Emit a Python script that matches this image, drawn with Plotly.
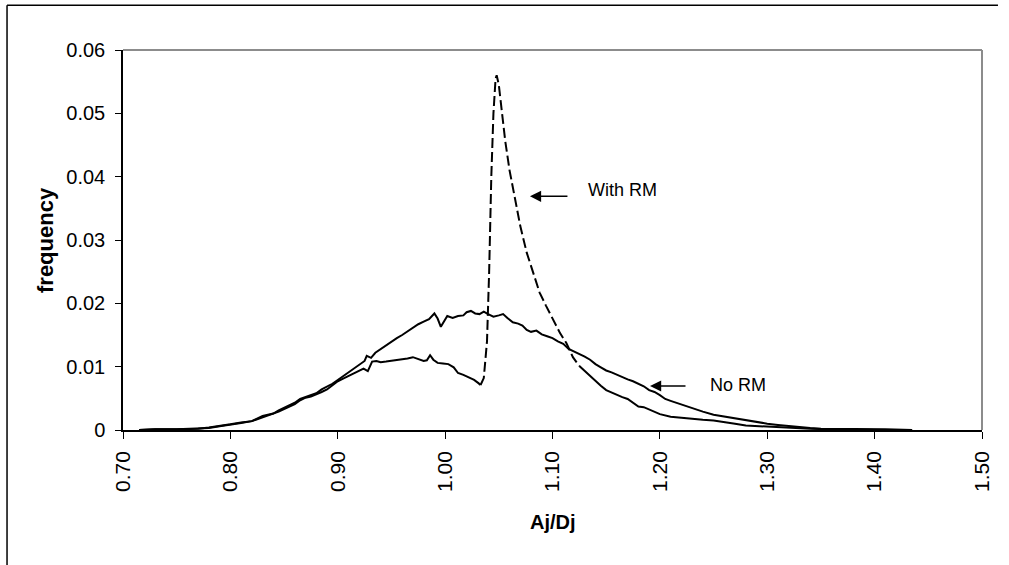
import plotly.graph_objects as go

# Aj/Dj ratio distribution, without and with RM
no_rm_x = [0.715, 0.73, 0.75, 0.77, 0.78, 0.79, 0.80, 0.81, 0.82, 0.83, 0.835, 0.84, 0.845,
           0.85, 0.855, 0.86, 0.865, 0.87, 0.875, 0.88, 0.885, 0.89, 0.895, 0.90, 0.905,
           0.91, 0.915, 0.92, 0.925, 0.927, 0.931, 0.935, 0.94, 0.945, 0.95, 0.955, 0.96,
           0.965, 0.97, 0.975, 0.98, 0.985, 0.99, 0.993, 0.996, 0.999, 1.002, 1.007, 1.012,
           1.017, 1.02, 1.024, 1.028, 1.032, 1.036, 1.04, 1.045, 1.05, 1.054, 1.058, 1.063,
           1.068, 1.072, 1.076, 1.08, 1.085, 1.09, 1.095, 1.10, 1.105, 1.11, 1.115, 1.12,
           1.125, 1.13, 1.135, 1.14, 1.145, 1.15, 1.155, 1.16, 1.165, 1.17, 1.175, 1.18,
           1.185, 1.19, 1.195, 1.20, 1.205, 1.21, 1.22, 1.23, 1.24, 1.25, 1.26, 1.27, 1.28,
           1.29, 1.30, 1.31, 1.32, 1.33, 1.34, 1.35, 1.37, 1.39, 1.41, 1.435]
no_rm_y = [0.0000, 0.0001, 0.0001, 0.0002, 0.0004, 0.0006, 0.0009, 0.0012, 0.0014, 0.0022,
           0.0024, 0.0026, 0.0031, 0.0035, 0.0038, 0.0043, 0.0049, 0.0052, 0.0055, 0.0058,
           0.0064, 0.0068, 0.0073, 0.0079, 0.0085, 0.0090, 0.0097, 0.0103, 0.0109, 0.0117,
           0.0114, 0.0122, 0.0128, 0.0133, 0.0139, 0.0145, 0.0150, 0.0156, 0.0162, 0.0167,
           0.0171, 0.0175, 0.0184, 0.0176, 0.0163, 0.0172, 0.0180, 0.0177, 0.0180, 0.0181,
           0.0186, 0.0188, 0.0184, 0.0183, 0.0187, 0.0183, 0.0179, 0.0181, 0.0183, 0.0177,
           0.0170, 0.0168, 0.0165, 0.0158, 0.0155, 0.0157, 0.0151, 0.0148, 0.0145, 0.0140,
           0.0136, 0.0128, 0.0124, 0.0121, 0.0116, 0.0111, 0.0104, 0.0099, 0.0094, 0.0091,
           0.0087, 0.0084, 0.0080, 0.0077, 0.0073, 0.0069, 0.0063, 0.0060, 0.0055, 0.0049,
           0.0046, 0.0040, 0.0035, 0.0029, 0.0024, 0.0021, 0.0019, 0.0016, 0.0013, 0.0010,
           0.0008, 0.0006, 0.0004, 0.0003, 0.0002, 0.0002, 0.0001, 0.0001, 0.0000]

with_rm_x = [0.715, 0.73, 0.75, 0.77, 0.78, 0.79, 0.80, 0.81, 0.82, 0.83, 0.835, 0.84, 0.845,
             0.85, 0.855, 0.86, 0.865, 0.87, 0.875, 0.88, 0.885, 0.89, 0.895, 0.90, 0.905,
             0.91, 0.915, 0.92, 0.924, 0.928, 0.932, 0.936, 0.94, 0.945, 0.95, 0.955, 0.96,
             0.965, 0.97, 0.975, 0.98, 0.983, 0.986, 0.989, 0.993, 0.998, 1.003, 1.008, 1.012,
             1.017, 1.022, 1.027, 1.031, 1.033, 1.036, 1.039, 1.041, 1.043, 1.045, 1.047,
             1.048, 1.050, 1.053, 1.056, 1.060, 1.065, 1.07, 1.076, 1.082, 1.088, 1.094,
             1.10, 1.107, 1.113, 1.119, 1.125, 1.13, 1.135, 1.14, 1.145, 1.15, 1.155, 1.16,
             1.165, 1.17, 1.175, 1.18, 1.185, 1.19, 1.20, 1.21, 1.22, 1.23, 1.24, 1.25, 1.26,
             1.27, 1.28, 1.29, 1.30, 1.31, 1.32, 1.34, 1.36, 1.38, 1.40]
with_rm_y = [0.0000, 0.0001, 0.0001, 0.0002, 0.0003, 0.0006, 0.0008, 0.0011, 0.0014, 0.0020,
             0.0023, 0.0025, 0.0029, 0.0033, 0.0037, 0.0041, 0.0047, 0.0051, 0.0053, 0.0056,
             0.0060, 0.0064, 0.0070, 0.0077, 0.0081, 0.0085, 0.0089, 0.0093, 0.0097, 0.0093,
             0.0108, 0.0109, 0.0107, 0.0108, 0.0109, 0.0111, 0.0112, 0.0113, 0.0115, 0.0112,
             0.0109, 0.0110, 0.0118, 0.0111, 0.0106, 0.0105, 0.0104, 0.0099, 0.0090, 0.0087,
             0.0083, 0.0079, 0.0074, 0.0071, 0.0082, 0.0140, 0.0250, 0.0400, 0.0500, 0.0555,
             0.0560, 0.0545, 0.0500, 0.0456, 0.0410, 0.0365, 0.0322, 0.0280, 0.0248, 0.0217,
             0.0196, 0.0175, 0.0153, 0.0137, 0.0115, 0.0101, 0.0093, 0.0085, 0.0077, 0.0070,
             0.0063, 0.0059, 0.0055, 0.0052, 0.0049, 0.0043, 0.0037, 0.0036, 0.0032, 0.0025,
             0.0021, 0.0019, 0.0018, 0.0016, 0.0015, 0.0013, 0.0010, 0.0007, 0.0006, 0.0005,
             0.0004, 0.0003, 0.0002, 0.0001, 0.0001, 0.0000]

x_ticks = [0.70, 0.80, 0.90, 1.00, 1.10, 1.20, 1.30, 1.40, 1.50]
y_ticks = [0, 0.01, 0.02, 0.03, 0.04, 0.05, 0.06]

FONT = "Arial, Liberation Sans, sans-serif"
LINE = dict(color="black", width=2)

fig = go.Figure()
fig.add_trace(go.Scatter(x=no_rm_x, y=no_rm_y, mode="lines", line=LINE, name="No RM"))

# The steep part of the RM curve shows its dash pattern; the dense flat parts read as solid
i0 = with_rm_x.index(1.033)
i1 = with_rm_x.index(1.125)
fig.add_trace(go.Scatter(x=with_rm_x[:i0 + 1], y=with_rm_y[:i0 + 1], mode="lines",
                         line=LINE, name="With RM"))
fig.add_trace(go.Scatter(x=with_rm_x[i0:i1 + 1], y=with_rm_y[i0:i1 + 1], mode="lines",
                         line=dict(color="black", width=2, dash="10px,4px"), name="With RM"))
fig.add_trace(go.Scatter(x=with_rm_x[i1:], y=with_rm_y[i1:], mode="lines",
                         line=LINE, name="With RM"))

fig.update_layout(
    width=1009, height=565,
    margin=dict(l=123, r=27, t=50, b=135),
    paper_bgcolor="white", plot_bgcolor="white",
    showlegend=False,
    font=dict(family=FONT, color="black", size=20),
)
fig.update_xaxes(
    range=[0.7, 1.5], tickvals=x_ticks, tickformat=".2f", tickangle=-90,
    ticks="outside", ticklen=7, tickcolor="black", tickwidth=1,
    showline=True, linecolor="black", linewidth=1.5,
    showgrid=False, zeroline=False,
    tickfont=dict(size=21), ticklabelstandoff=4,
)
fig.update_yaxes(
    range=[0, 0.06], tickvals=y_ticks, ticktext=[str(v) for v in y_ticks],
    ticks="outside", ticklen=6, tickcolor="black", tickwidth=1,
    showline=True, linecolor="black", linewidth=1.5,
    showgrid=False, zeroline=False,
    tickfont=dict(size=20), ticklabelstandoff=6,
)

# Plot-area border (top, right) and outer chart frame
fig.add_shape(type="line", xref="paper", yref="paper", x0=0, x1=1, y0=1, y1=1,
              line=dict(color="#8c8c8c", width=2))
fig.add_shape(type="line", xref="paper", yref="paper", x0=1, x1=1, y0=0, y1=1,
              line=dict(color="#8c8c8c", width=2))
fig.add_shape(type="line", xref="paper", yref="paper", x0=-0.135, x1=1.0186, y0=1.118, y1=1.118,
              line=dict(color="black", width=1.5))
fig.add_shape(type="line", xref="paper", yref="paper", x0=-0.135, x1=-0.135, y0=1.118, y1=-0.36,
              line=dict(color="black", width=1.5))

# Axis titles
fig.add_annotation(text="<b>frequency</b>", xref="paper", yref="paper", x=-0.0908, y=0.5,
                   textangle=-90, showarrow=False, font=dict(size=22),
                   xanchor="center", yanchor="middle")
fig.add_annotation(text="<b>Aj/Dj</b>", xref="paper", yref="paper", x=0.5, y=-0.242,
                   showarrow=False, font=dict(size=20), xanchor="center", yanchor="middle")

# Series call-outs with arrows
fig.add_annotation(x=1.079, y=0.0369, ax=39, ay=0, text="", showarrow=True,
                   arrowhead=2, arrowsize=1.4, arrowwidth=1.6, arrowcolor="black")
fig.add_annotation(x=1.1312, y=0.0379, text="With RM", showarrow=False,
                   xanchor="left", yanchor="middle", font=dict(size=18))
fig.add_annotation(x=1.1908, y=0.00695, ax=37, ay=0, text="", showarrow=True,
                   arrowhead=2, arrowsize=1.4, arrowwidth=1.6, arrowcolor="black")
fig.add_annotation(x=1.2448, y=0.0071, text="No RM", showarrow=False,
                   xanchor="left", yanchor="middle", font=dict(size=18))

fig.write_html("out.html")
